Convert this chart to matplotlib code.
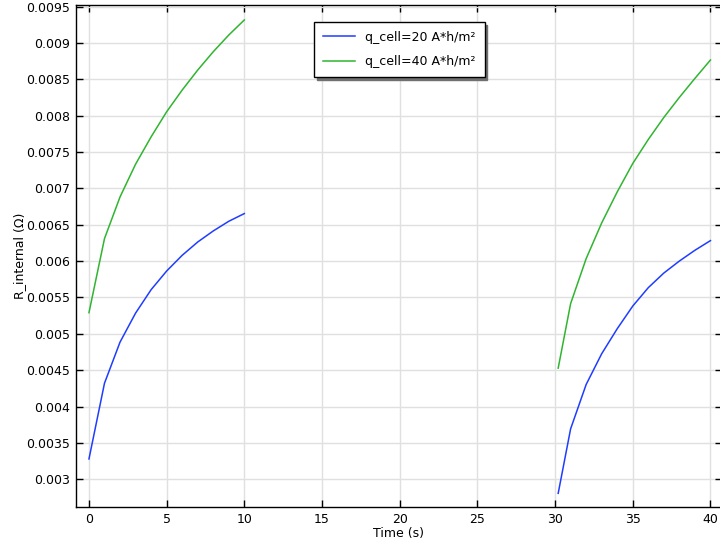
import matplotlib
matplotlib.use('Agg')
import matplotlib.pyplot as plt
import numpy as np

# Time points (s) for the two charge/discharge segments
time_a = [0, 1, 2, 3, 4, 5, 6, 7, 8, 9, 10]
time_b = [30.2, 31, 32, 33, 34, 35, 36, 37, 38, 39, 40]

# R_internal (Ohm), q_cell = 20 A*h/m^2
r20_a = [0.003279, 0.004321, 0.004886, 0.005285, 0.005607, 0.005864,
         0.006080, 0.006263, 0.006415, 0.006548, 0.006654]
r20_b = [0.002806, 0.003693, 0.004303, 0.004726, 0.005070, 0.005382,
         0.005635, 0.005836, 0.006001, 0.006149, 0.006282]

# R_internal (Ohm), q_cell = 40 A*h/m^2
r40_a = [0.005291, 0.006310, 0.006883, 0.007333, 0.007709, 0.008054,
         0.008353, 0.008628, 0.008880, 0.009110, 0.009317]
r40_b = [0.004528, 0.005415, 0.006034, 0.006525, 0.006952, 0.007343,
         0.007673, 0.007976, 0.008252, 0.008513, 0.008766]

labels = ['q_cell=20 A*h/m²', 'q_cell=40 A*h/m²']
colors = ['#1f3dff', '#2fb52f']

x_ticks = [0, 5, 10, 15, 20, 25, 30, 35, 40]
y_ticks = [0.003, 0.0035, 0.004, 0.0045, 0.005, 0.0055, 0.006, 0.0065,
           0.007, 0.0075, 0.008, 0.0085, 0.009, 0.0095]
y_tick_labels = ['0.003', '0.0035', '0.004', '0.0045', '0.005', '0.0055', '0.006',
                 '0.0065', '0.007', '0.0075', '0.008', '0.0085', '0.009', '0.0095']

plt.rcParams['font.family'] = ['DejaVu Sans']
plt.rcParams['font.size'] = 9

fig = plt.figure(figsize=(7.2, 5.41), dpi=100)
# right edge of the frame sits just outside the canvas, as in the reference
ax = fig.add_axes([0.105, 0.0623, 0.8977, 0.9285])

series = [(r20_a, r20_b), (r40_a, r40_b)]
for (ya, yb), lab, col in zip(series, labels, colors):
    # NaN gap between the two segments of the same curve
    x = np.concatenate([time_a, [np.nan], time_b])
    y = np.concatenate([ya, [np.nan], yb])
    ax.plot(x, y, color=col, lw=1.1, label=lab)

ax.set_xlim(-0.86, 40.74)
ax.set_ylim(0.002614, 0.009523)
ax.set_xticks(x_ticks)
ax.set_yticks(y_ticks)
ax.set_yticklabels(y_tick_labels)
ax.grid(True, color='#e0e0e0', lw=1)
ax.set_axisbelow(True)
ax.tick_params(direction='in', length=5, width=1, top=True, right=True,
               labelsize=9, pad=4)
for sp in ax.spines.values():
    sp.set_linewidth(1)
    sp.set_color('black')

ax.set_xlabel('Time (s)', fontsize=9, labelpad=1)
ax.set_ylabel('R_internal (Ω)', fontsize=9, labelpad=0)

leg = ax.legend(loc='upper left', bbox_to_anchor=(0.369, 0.966), borderaxespad=0,
                fancybox=False, shadow={'color': '#707070', 'alpha': 1},
                framealpha=1, edgecolor='black', fontsize=9,
                handlelength=2.6, labelspacing=0.9, borderpad=0.7)
leg.get_frame().set_linewidth(1)

plt.savefig('out.png', dpi=100)
